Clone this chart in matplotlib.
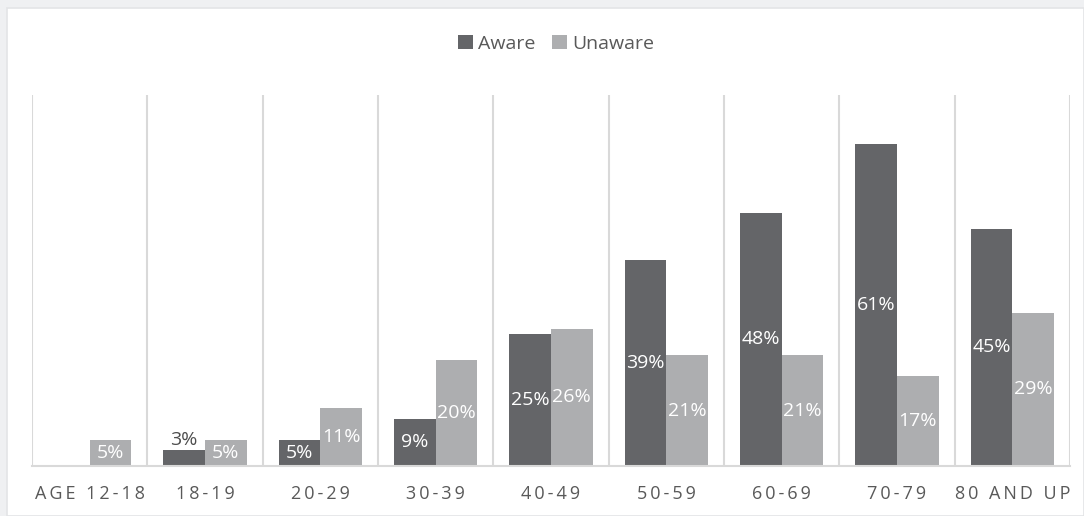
import numpy as np
import matplotlib.pyplot as plt
from matplotlib.patches import Rectangle

# Data
age_groups = ["AGE 12-18", "18-19", "20-29", "30-39", "40-49",
              "50-59", "60-69", "70-79", "80 AND UP"]
aware = [0, 3, 5, 9, 25, 39, 48, 61, 45]
unaware = [5, 5, 11, 20, 26, 21, 21, 17, 29]

aware_color = "#646568"
unaware_color = "#adaeb0"
grid_color = "#d9d9d9"
text_color = "#595959"

plt.rcParams["font.family"] = ["Open Sans", "DejaVu Sans"]

fig = plt.figure(figsize=(10.84, 5.16), dpi=100, facecolor="#eff0f2")
# white chart panel inside the light gray frame
fig.patches.append(Rectangle((7 / 1084, 0), 1 - 7 / 1084, 1 - 8 / 516,
                             transform=fig.transFigure, facecolor="white",
                             edgecolor="#e3e4e6", linewidth=1.2, zorder=-10))

ax = fig.add_axes([32 / 1084, 50 / 516, 1038 / 1084, 371 / 516])
ax.set_facecolor("none")

x = np.arange(len(age_groups))
w = 0.36
b1 = ax.bar(x - w / 2, aware, w, color=aware_color, label="Aware", zorder=2)
b2 = ax.bar(x + w / 2, unaware, w, color=unaware_color, label="Unaware", zorder=2)

# value labels: centered in the bar, above it when the bar is too short
for bars, vals in ((b1, aware), (b2, unaware)):
    for bar, v in zip(bars, vals):
        if v == 0:
            continue
        cx = bar.get_x() + bar.get_width() / 2
        if v < 4:
            ax.text(cx, v + 0.2, f"{v}%", ha="center", va="bottom",
                    color="#4d4d4d", fontsize=14, zorder=3)
        else:
            ax.text(cx, v / 2, f"{v}%", ha="center", va="center",
                    color="white", fontsize=14, zorder=3)

ax.set_xlim(-0.5, len(age_groups) - 0.5)
ax.set_ylim(0, 70.3)

# vertical separators between categories
for b in np.arange(-0.5, len(age_groups), 1.0):
    ax.axvline(b, color=grid_color, linewidth=1.5, zorder=1)

for s in ["top", "left", "right"]:
    ax.spines[s].set_visible(False)
ax.spines["bottom"].set_color(grid_color)
ax.spines["bottom"].set_linewidth(1.5)

ax.set_yticks([])
ax.set_xticks(x)
# spaced-out capitals like the original
ax.set_xticklabels(["\u2009".join(lbl) for lbl in age_groups],
                   fontsize=13, color=text_color)
ax.tick_params(axis="x", length=0, pad=14)

fig.legend(loc="center", bbox_to_anchor=(556 / 1084, 1 - 44 / 516), ncol=2,
           frameon=False, fontsize=14, handlelength=0.75, handleheight=0.75,
           handletextpad=0.25, columnspacing=0.9, labelcolor=text_color)

fig.savefig("out.png", dpi=100, facecolor=fig.get_facecolor())
